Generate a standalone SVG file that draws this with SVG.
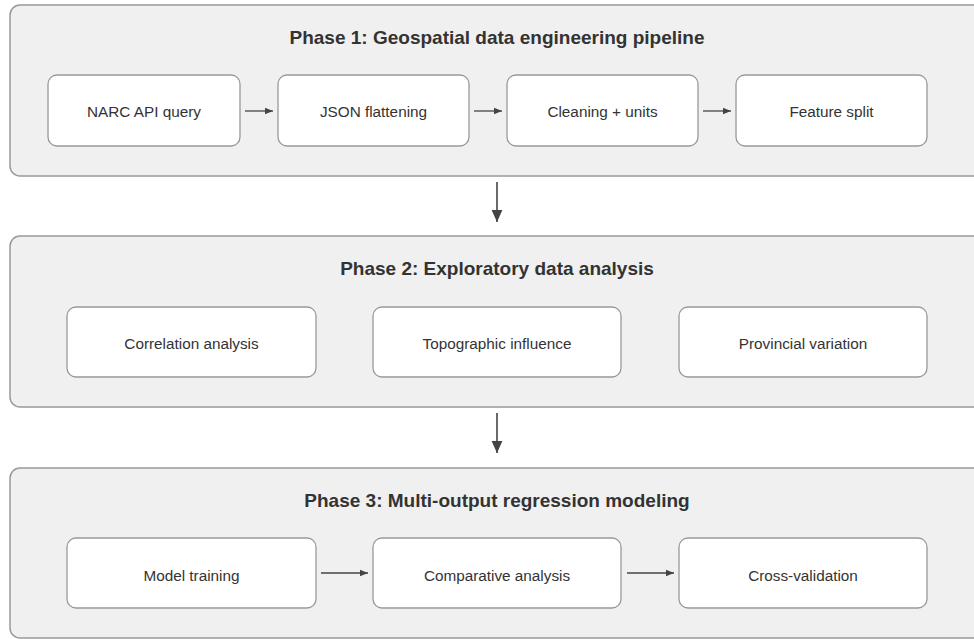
<svg xmlns="http://www.w3.org/2000/svg" width="974" height="639" viewBox="0 0 974 639">
<defs>
<style>
.phase{fill:#f0f0f0;stroke:#999;stroke-width:1.5}
.node{fill:#fff;stroke:#999;stroke-width:1.3}
.title{font-family:"Liberation Sans",Arial,sans-serif;font-size:19px;font-weight:bold;fill:#333;text-anchor:middle}
.lbl{font-family:"Liberation Sans",Arial,sans-serif;font-size:15.3px;fill:#333;text-anchor:middle;dominant-baseline:central}
.conn{stroke:#444;stroke-width:1.3;fill:none}
.big{stroke:#444;stroke-width:1.6;fill:none}
</style>
<marker id="ah" viewBox="0 0 10 10" refX="10" refY="5" markerWidth="8" markerHeight="8" markerUnits="userSpaceOnUse" orient="auto"><path d="M0,1 L10,5 L0,9 z" fill="#444"/></marker>
<marker id="ahb" viewBox="0 0 10 10" refX="10" refY="5" markerWidth="12" markerHeight="12" markerUnits="userSpaceOnUse" orient="auto"><path d="M0,0.5 L10,5 L0,9.5 z" fill="#444"/></marker>
</defs>
<g id="phase1">
<rect class="phase" x="10" y="5" width="974" height="171" rx="10"/>
<text class="title" x="497" y="43.5">Phase 1: Geospatial data engineering pipeline</text>
</g>
<g id="phase2">
<rect class="phase" x="10" y="236" width="974" height="171" rx="10"/>
<text class="title" x="497" y="275">Phase 2: Exploratory data analysis</text>
</g>
<g id="phase3">
<rect class="phase" x="10" y="468" width="974" height="170" rx="10"/>
<text class="title" x="497" y="507">Phase 3: Multi-output regression modeling</text>
</g>
<g id="n-narc"><rect class="node" x="48" y="75" width="192" height="71" rx="9"/><text class="lbl" x="144" y="111">NARC API query</text></g>
<g id="n-json"><rect class="node" x="278" y="75" width="191" height="71" rx="9"/><text class="lbl" x="373.5" y="111">JSON flattening</text></g>
<g id="n-clean"><rect class="node" x="507" y="75" width="191" height="71" rx="9"/><text class="lbl" x="602.5" y="111">Cleaning + units</text></g>
<g id="n-feat"><rect class="node" x="736" y="75" width="191" height="71" rx="9"/><text class="lbl" x="831.5" y="111">Feature split</text></g>
<g id="n-corr"><rect class="node" x="67" y="307" width="249" height="70" rx="9"/><text class="lbl" x="191.5" y="343">Correlation analysis</text></g>
<g id="n-topo"><rect class="node" x="373" y="307" width="248" height="70" rx="9"/><text class="lbl" x="497" y="343">Topographic influence</text></g>
<g id="n-prov"><rect class="node" x="679" y="307" width="248" height="70" rx="9"/><text class="lbl" x="803" y="343">Provincial variation</text></g>
<g id="n-train"><rect class="node" x="67" y="538" width="249" height="70" rx="9"/><text class="lbl" x="191.5" y="575">Model training</text></g>
<g id="n-comp"><rect class="node" x="373" y="538" width="248" height="70" rx="9"/><text class="lbl" x="497" y="575">Comparative analysis</text></g>
<g id="n-cv"><rect class="node" x="679" y="538" width="248" height="70" rx="9"/><text class="lbl" x="803" y="575">Cross-validation</text></g>
<g id="connectors">
<line class="conn" x1="245" y1="111" x2="273" y2="111" marker-end="url(#ah)"/>
<line class="conn" x1="474" y1="111" x2="502" y2="111" marker-end="url(#ah)"/>
<line class="conn" x1="703" y1="111" x2="731" y2="111" marker-end="url(#ah)"/>
<line class="conn" x1="321" y1="573" x2="368" y2="573" marker-end="url(#ah)"/>
<line class="conn" x1="627" y1="573" x2="674" y2="573" marker-end="url(#ah)"/>
<line class="big" x1="497" y1="182" x2="497" y2="222" marker-end="url(#ahb)"/>
<line class="big" x1="497" y1="413" x2="497" y2="453" marker-end="url(#ahb)"/>
</g>
</svg>
